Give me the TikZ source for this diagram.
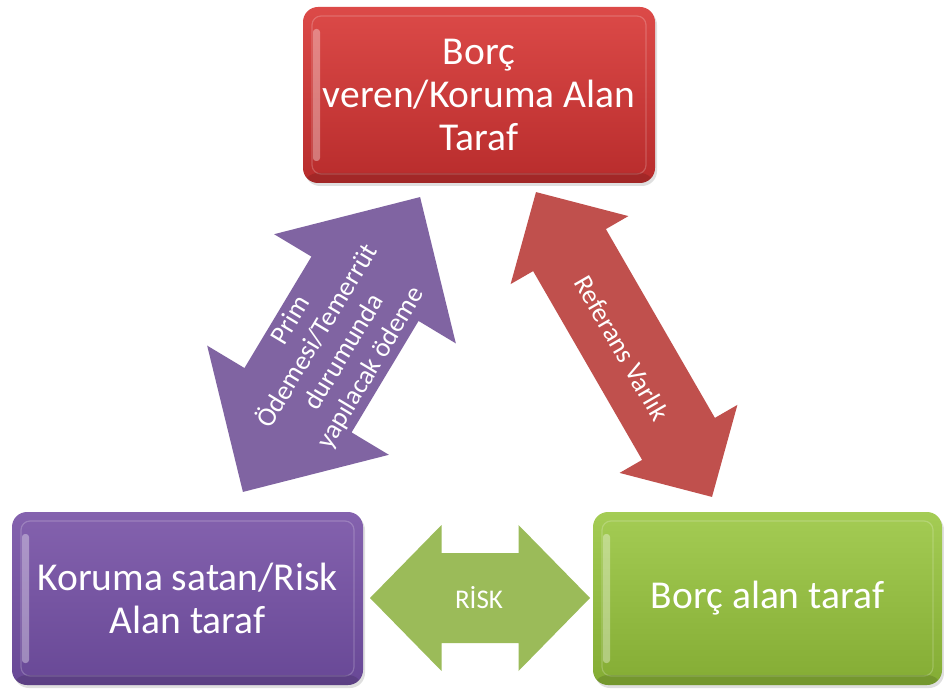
\documentclass[tikz,border=0pt]{standalone}
\usepackage{fontspec}
\setmainfont{Carlito}
\usetikzlibrary{shadows}
\definecolor{redtop}{RGB}{220,74,72}
\definecolor{redbot}{RGB}{184,44,44}
\definecolor{purtop}{RGB}{132,98,174}
\definecolor{purbot}{RGB}{104,72,150}
\definecolor{grntop}{RGB}{164,204,84}
\definecolor{grnbot}{RGB}{132,172,52}
\definecolor{redarrow}{HTML}{C0504D}
\definecolor{purarrow}{HTML}{8064A2}
\definecolor{grnarrow}{HTML}{9BBB59}
% #1 cx, #2 cy, #3 angle, #4 half length, #5 head length, #6 head half width, #7 shaft half width, #8 colour
\newcommand{\mydblarrow}[8]{%
  \begin{scope}[shift={(#1,#2)},rotate=#3]
    \fill[#8] (-#4,0) -- (-#4+#5,#6) -- (-#4+#5,#7) -- (#4-#5,#7) -- (#4-#5,#6) -- (#4,0)
      -- (#4-#5,-#6) -- (#4-#5,-#7) -- (-#4+#5,-#7) -- (-#4+#5,-#6) -- cycle;
  \end{scope}}
\tikzset{
  bigbox/.style={rounded corners=15pt, text=white, align=center, inner sep=0pt,
    font=\fontsize{39.5}{43}\selectfont,
    drop shadow={opacity=0.25, shadow xshift=2pt, shadow yshift=-3pt},
    path picture={
      \draw[white, opacity=0.2, line width=1.2pt, rounded corners=9pt]
        ([shift={(9pt,-9pt)}]path picture bounding box.north west) rectangle
        ([shift={(-9pt,9pt)}]path picture bounding box.south east);
      \fill[white, opacity=0.35, rounded corners=3pt]
        ([shift={(10pt,-22pt)}]path picture bounding box.north west) rectangle
        ([shift={(17pt,22pt)}]path picture bounding box.south west);
      \fill[black, opacity=0.12]
        (path picture bounding box.south west) rectangle
        ([shift={(0pt,10pt)}]path picture bounding box.south east);
    }},
  arrowtext/.style={text=white, align=center, inner sep=0pt,
    font=\fontsize{27}{31}\selectfont}
}
\begin{document}
\begin{tikzpicture}[x=1pt,y=1pt]
\useasboundingbox[fill=white] (0,0) rectangle (944,691);

% arrows
\mydblarrow{331.5}{346.5}{59}{172}{107}{106}{62.5}{purarrow}
\mydblarrow{624}{346.5}{-60}{176}{67}{68}{42}{redarrow}
\mydblarrow{480}{93}{0}{110}{71.5}{73}{45}{grnarrow}

\node[arrowtext, rotate=59] (premtext) at (331.5,346.5)
  {Prim\\Ödemesi/Temerrüt\\durumunda\\yapılacak ödeme};
\node[arrowtext, rotate=-60] (reftext) at (622,343) {Referans Varlık};
\node[arrowtext] (risktext) at (479,93) {RİSK};

% boxes
\node[bigbox, top color=redtop, bottom color=redbot,
  minimum width=352pt, minimum height=176pt] (lender) at (479,596)
  {Borç\\veren/Koruma Alan\\Taraf};
\node[bigbox, top color=purtop, bottom color=purbot,
  minimum width=351pt, minimum height=173pt] (seller) at (187.5,92.5)
  {Koruma satan/Risk\\Alan taraf};
\node[bigbox, top color=grntop, bottom color=grnbot,
  minimum width=349pt, minimum height=173pt] (borrower) at (767.5,92.5)
  {Borç alan taraf};
\end{tikzpicture}
\end{document}
